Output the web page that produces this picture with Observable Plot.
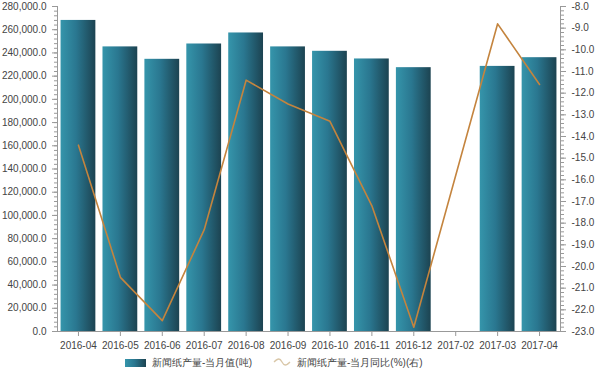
<!DOCTYPE html>
<html>
<head>
<meta charset="utf-8">
<script src="https://cdn.jsdelivr.net/npm/d3@7"></script>
<script src="https://cdn.jsdelivr.net/npm/@observablehq/plot@0.6"></script>
<style>
  html, body { margin: 0; padding: 0; background: #fff; }
  #chart { position: relative; width: 600px; height: 352px; }
  #chart svg { position: absolute; left: 0; top: 0; background: transparent; }
  #legend { width: 600px; height: 22px; position: relative; font-family: "Liberation Sans", Arial, sans-serif; font-size: 10px; color: #444; }
  #legend .item { position: absolute; top: 4px; display: flex; align-items: center; height: 14px; }
</style>
</head>
<body>
<div id="chart"></div>
<div id="legend"></div>
<script>
const months = ["2016-04","2016-05","2016-06","2016-07","2016-08","2016-09","2016-10","2016-11","2016-12","2017-02","2017-03","2017-04"];
const output = [268000, 245200, 234500, 247700, 257200, 245200, 241400, 234800, 227300, null, 228400, 235900];
const yoy = [-14.4, -20.5, -22.5, -18.3, -11.4, -12.5, -13.3, -17.2, -22.8, null, -8.8, -11.6];
const leftTicks = d3.range(0, 280001, 20000);
const leftMinor = d3.range(0, 280001, 4000);
const rightTicks = d3.range(-23, -7.99, 1);
const rightMinor = d3.range(-23, -7.99, 0.2);
const seriesNames = ["新闻纸产量-当月值(吨)", "新闻纸产量-当月同比(%)(右)"];

const barData = months.map((m, i) => ({month: m, value: output[i]})).filter(d => d.value != null);
const lineData = months.map((m, i) => ({month: m, value: yoy[i]})).filter(d => d.value != null);

const W = 600, H = 352;
const margins = {marginTop: 6, marginBottom: 21, marginLeft: 57, marginRight: 40};
const xScale = {type: "band", domain: months, paddingInner: 0.17, paddingOuter: 0.085, round: false};
const font = "Liberation Sans, Arial, sans-serif";
const axisColor = "#999";
const textColor = "#444";

const barPlot = Plot.plot({
  width: W, height: H, ...margins,
  style: {fontFamily: font, fontSize: "10px", color: textColor, background: "transparent"},
  x: {...xScale, axis: null, label: null},
  y: {domain: [0, 280000], axis: null, label: null},
  marks: [
    Plot.barY(barData, {x: "month", y: "value", fill: "url(#barGrad)"}),
    Plot.axisX({tickSize: 5, tickPadding: 5, stroke: axisColor, fill: textColor, label: null}),
    Plot.axisY(leftMinor, {tickSize: 3, tickFormat: () => "", stroke: axisColor, label: null}),
    Plot.axisY(leftTicks, {tickSize: 5, tickPadding: 6, tickFormat: d3.format(",.1f"), stroke: axisColor, fill: textColor, label: null}),
    Plot.frame({anchor: "left", stroke: axisColor}),
    Plot.frame({anchor: "bottom", stroke: axisColor})
  ]
});

const linePlot = Plot.plot({
  width: W, height: H, ...margins,
  style: {fontFamily: font, fontSize: "10px", color: textColor, background: "transparent"},
  x: {...xScale, axis: null, label: null},
  y: {domain: [-23, -8], axis: null, label: null},
  marks: [
    Plot.lineY(lineData, {x: "month", y: "value", stroke: "#c4843e", strokeWidth: 1.6}),
    Plot.axisY(rightMinor, {anchor: "right", tickSize: 3, tickFormat: () => "", stroke: axisColor, label: null}),
    Plot.axisY(rightTicks, {anchor: "right", tickSize: 5, tickPadding: 6, tickFormat: d => d.toFixed(1), stroke: axisColor, fill: textColor, label: null}),
    Plot.frame({anchor: "right", stroke: axisColor})
  ]
});

// gradient for bars
const ns = "http://www.w3.org/2000/svg";
const defs = document.createElementNS(ns, "defs");
defs.innerHTML = `<linearGradient id="barGrad" x1="0" x2="1" y1="0" y2="0">
  <stop offset="0" stop-color="#3595ab"/>
  <stop offset="0.45" stop-color="#2a7790"/>
  <stop offset="1" stop-color="#1c4351"/>
</linearGradient>`;
barPlot.insertBefore(defs, barPlot.firstChild);

const chart = document.getElementById("chart");
chart.appendChild(barPlot);
chart.appendChild(linePlot);

// legend
const legend = document.getElementById("legend");
legend.innerHTML = `
<div class="item" style="left:125px">
  <svg width="22" height="10" style="margin-right:5px"><rect x="0" y="1" width="21" height="8" fill="url(#legGrad2)"/>
    <defs><linearGradient id="legGrad2" x1="0" x2="1"><stop offset="0" stop-color="#3595ab"/><stop offset="0.45" stop-color="#2a7790"/><stop offset="1" stop-color="#1c4351"/></linearGradient></defs></svg>
  <span>${seriesNames[0]}</span>
</div>
<div class="item" style="left:273px">
  <svg width="18" height="10" style="margin-right:6px"><path d="M1,4 C5,0 7,0 9,4 C11,8 13,8 17,4" fill="none" stroke="#d9c7a8" stroke-width="1.3"/></svg>
  <span>${seriesNames[1]}</span>
</div>`;
</script>
</body>
</html>
